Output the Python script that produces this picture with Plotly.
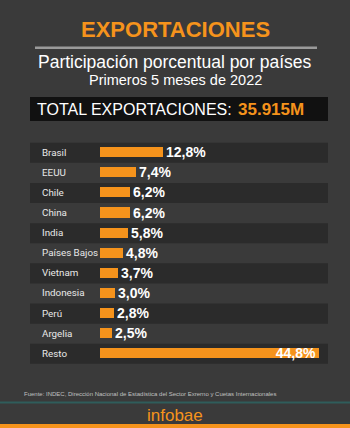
import plotly.graph_objects as go

countries = ["Brasil", "EEUU", "Chile", "China", "India", "Países Bajos",
             "Vietnam", "Indonesia", "Perú", "Argelia", "Resto"]
shares = [12.8, 7.4, 6.2, 6.2, 5.8, 4.8, 3.7, 3.0, 2.8, 2.5, 44.8]
value_labels = ["12,8%", "7,4%", "6,2%", "6,2%", "5,8%", "4,8%",
                "3,7%", "3,0%", "2,8%", "2,5%", "44,8%"]

title = "EXPORTACIONES"
subtitle1 = "Participación porcentual por países"
subtitle2 = "Primeros 5 meses de 2022"
total_label = "TOTAL EXPORTACIONES:"
total_value = "35.915M"
source = ("Fuente: INDEC, Dirección Nacional de Estadística del Sector Exrerno "
          "y Cuetas Internacionales")
brand = "infobae"

W, H = 350, 428
BG = "#3a3a3a"
BAND = "#2b2b2b"
ORANGE = "#f5931c"

idx = list(range(len(countries)))
positions = ["inside" if c == "Resto" else "outside" for c in countries]

fig = go.Figure()
fig.add_trace(go.Bar(
    x=shares, y=idx, orientation="h", width=0.5,
    marker=dict(color=ORANGE, line=dict(width=0)),
    text=value_labels, textposition=positions,
    insidetextanchor="end", constraintext="none", cliponaxis=False,
    textfont=dict(family="Liberation Sans, Arial", size=14, color="white", weight="bold"),
    hoverinfo="skip",
))

def px(x):
    return x / W

def py(y):
    return 1 - y / H

shapes = []
# row bands
for i in idx:
    if i % 2 == 0:
        shapes.append(dict(type="rect", xref="paper", yref="y",
                           x0=px(30), x1=px(328), y0=i - 0.47, y1=i + 0.53,
                           fillcolor=BAND, line=dict(width=0), layer="below"))
# gray rule under title
shapes.append(dict(type="rect", xref="paper", yref="paper",
                   x0=px(35), x1=px(317), y0=py(49), y1=py(46.5),
                   fillcolor="#9a9a9a", line=dict(width=0)))
# black total box
shapes.append(dict(type="rect", xref="paper", yref="paper",
                   x0=px(30), x1=px(328), y0=py(121), y1=py(97),
                   fillcolor="#111111", line=dict(width=0)))
# teal footer line
shapes.append(dict(type="rect", xref="paper", yref="paper",
                   x0=0, x1=1, y0=py(403.5), y1=py(401.5),
                   fillcolor="#2f5d5b", line=dict(width=0)))
# orange bottom strip
shapes.append(dict(type="rect", xref="paper", yref="paper",
                   x0=0, x1=1, y0=0, y1=py(424),
                   fillcolor=ORANGE, line=dict(width=0)))

ann = []
for i, c in zip(idx, countries):
    ann.append(dict(x=px(40), y=i, xref="paper", yref="y", text=c,
                    showarrow=False, xanchor="left", yanchor="middle",
                    font=dict(family="Roboto", size=9.8, color="#e8e8e8")))

ann += [
    dict(x=px(175.5), y=py(29.5), text=title, font=dict(family="Liberation Sans, Arial",
         size=22, color=ORANGE, weight="bold")),
    dict(x=px(175), y=py(62), text=subtitle1, font=dict(family="Liberation Sans, Arial",
         size=17.5, color="white")),
    dict(x=px(175), y=py(80), text=subtitle2, font=dict(family="Liberation Sans, Arial",
         size=14.5, color="white")),
    dict(x=px(234), y=py(109), text=total_label, xanchor="right",
         font=dict(family="Liberation Sans, Arial", size=16, color="white")),
    dict(x=px(236), y=py(109), text=total_value, xanchor="left",
         font=dict(family="Liberation Sans, Arial", size=17, color=ORANGE, weight="bold")),
    dict(x=px(22), y=py(394), text=source, xanchor="left",
         font=dict(family="Liberation Sans, Arial", size=6, color="#c0c0c0")),
    dict(x=px(175), y=py(415), text=brand,
         font=dict(family="Liberation Sans, Arial", size=17, color=ORANGE)),
]
for a in ann[len(countries):]:
    a.update(xref="paper", yref="paper", showarrow=False, yanchor="middle",
             xanchor=a.get("xanchor", "center"))

# x: value 0 at pixel 100, 4.89 px per percentage point
scale = 4.89
x0 = -100 / scale
x1 = x0 + W / scale
# y: row i centered at pixel 152.2 + 20.1 * i
pitch, c0 = 20.1, 152.2
y_top = (0 - c0) / pitch
y_bot = (H - c0) / pitch

fig.update_layout(
    width=W, height=H, margin=dict(l=0, r=0, t=0, b=0),
    paper_bgcolor=BG, plot_bgcolor=BG, showlegend=False,
    xaxis=dict(range=[x0, x1], visible=False, fixedrange=True),
    yaxis=dict(range=[y_bot, y_top], visible=False, fixedrange=True),
    shapes=shapes, annotations=ann, bargap=0,
)

fig.write_html("out.html", config={"displayModeBar": False})
